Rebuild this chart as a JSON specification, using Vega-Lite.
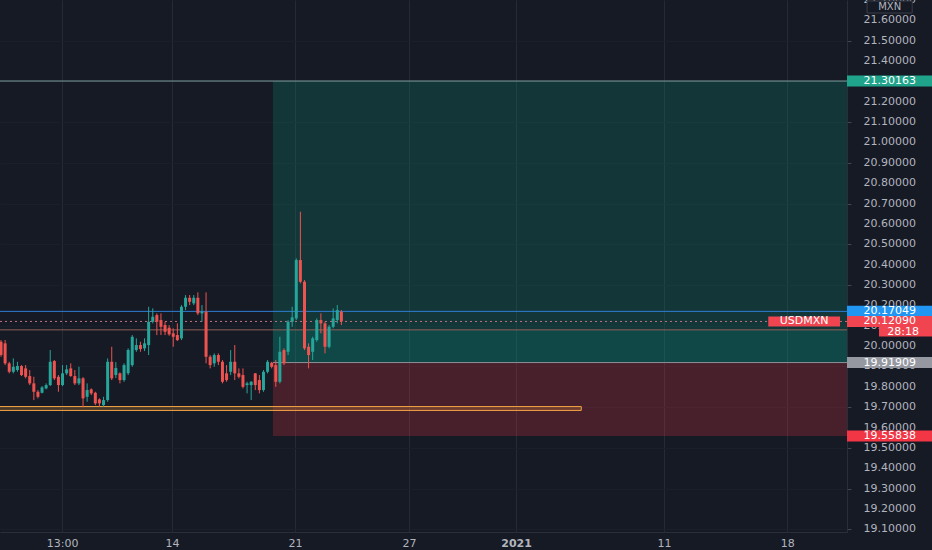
{
 "$schema": "https://vega.github.io/schema/vega-lite/v6.json",
 "width": 847,
 "height": 532,
 "autosize": {"type": "none"},
 "padding": {"left": 0, "top": 0, "right": 85, "bottom": 18},
 "background": "#161a25",
 "config": {"view": {"stroke": null}, "font": "DejaVu Sans"},
 "datasets": {
  "zones": [
   {"kind": "target", "start": 66.3, "end": 206.3, "low": 20.0797, "high": 21.30163},
   {"kind": "profit", "start": 66.3, "end": 206.3, "low": 19.91909, "high": 20.0797},
   {"kind": "stop", "start": 66.3, "end": 206.3, "low": 19.55838, "high": 19.91909}
  ],
  "drawings": [{"start": -3, "end": 141.5, "low": 19.684, "high": 19.703}],
  "levels": [
   {"kind": "tp", "price": 21.30163},
   {"kind": "blue", "price": 20.17049},
   {"kind": "hline", "price": 20.0797},
   {"kind": "last", "price": 20.1209}
  ],
  "entry": [{"start": 66.3, "end": 206.3, "price": 19.91909}],
  "pricescale": [
   {"v": 19.1}, {"v": 19.2}, {"v": 19.3}, {"v": 19.4}, {"v": 19.5}, {"v": 19.6}, {"v": 19.7}, {"v": 19.8}, {"v": 19.9},
   {"v": 20.0}, {"v": 20.1}, {"v": 20.2}, {"v": 20.3}, {"v": 20.4}, {"v": 20.5}, {"v": 20.6}, {"v": 20.7}, {"v": 20.8}, {"v": 20.9},
   {"v": 21.0}, {"v": 21.1}, {"v": 21.2}, {"v": 21.3}, {"v": 21.4}, {"v": 21.5}, {"v": 21.6}, {"v": 21.7}
  ],
  "candles": [
   {"i":0,"o":20.0212,"h":20.0295,"l":19.9475,"c":19.9559},
   {"i":1,"o":20.0133,"h":20.0295,"l":19.9067,"c":19.9151},
   {"i":2,"o":19.9151,"h":19.9229,"l":19.8660,"c":19.8738},
   {"i":3,"o":19.8738,"h":19.9396,"l":19.8660,"c":19.8984},
   {"i":4,"o":19.8822,"h":19.9229,"l":19.8738,"c":19.9018},
   {"i":5,"o":19.9018,"h":19.9067,"l":19.8527,"c":19.8576},
   {"i":6,"o":19.8905,"h":19.9067,"l":19.8414,"c":19.8492},
   {"i":7,"o":19.8527,"h":19.8822,"l":19.8085,"c":19.8168},
   {"i":8,"o":19.8168,"h":19.8492,"l":19.7348,"c":19.7756},
   {"i":9,"o":19.7756,"h":19.7839,"l":19.7432,"c":19.7510},
   {"i":10,"o":19.7707,"h":19.8036,"l":19.7677,"c":19.7972},
   {"i":11,"o":19.7923,"h":19.8168,"l":19.7874,"c":19.8085},
   {"i":12,"o":19.8085,"h":19.9804,"l":19.8036,"c":19.9229},
   {"i":13,"o":19.9264,"h":19.9313,"l":19.8330,"c":19.8414},
   {"i":14,"o":19.8492,"h":19.8576,"l":19.7756,"c":19.8085},
   {"i":15,"o":19.8085,"h":19.9067,"l":19.8036,"c":19.8660},
   {"i":16,"o":19.8660,"h":19.9067,"l":19.8576,"c":19.8856},
   {"i":17,"o":19.8905,"h":19.9151,"l":19.8492,"c":19.8527},
   {"i":18,"o":19.8527,"h":19.8822,"l":19.8085,"c":19.8168},
   {"i":19,"o":19.8168,"h":19.8984,"l":19.8085,"c":19.8414},
   {"i":20,"o":19.8414,"h":19.8478,"l":19.6989,"c":19.7432},
   {"i":21,"o":19.7510,"h":19.8168,"l":19.7265,"c":19.7839},
   {"i":22,"o":19.7874,"h":19.7923,"l":19.7594,"c":19.7677},
   {"i":23,"o":19.7707,"h":19.7756,"l":19.7102,"c":19.7186},
   {"i":24,"o":19.7382,"h":19.7432,"l":19.7019,"c":19.7186},
   {"i":25,"o":19.7102,"h":19.7510,"l":19.7019,"c":19.7348},
   {"i":26,"o":19.7348,"h":19.9396,"l":19.7265,"c":19.9229},
   {"i":27,"o":19.9229,"h":19.9966,"l":19.8330,"c":19.8414},
   {"i":28,"o":19.8576,"h":19.9215,"l":19.8429,"c":19.8920},
   {"i":29,"o":19.8660,"h":19.8709,"l":19.8168,"c":19.8330},
   {"i":30,"o":19.8330,"h":19.9151,"l":19.8247,"c":19.9067},
   {"i":31,"o":19.8660,"h":19.9888,"l":19.8576,"c":19.9804},
   {"i":32,"o":19.9067,"h":20.0541,"l":19.8984,"c":20.0457},
   {"i":33,"o":19.9804,"h":20.0379,"l":19.9720,"c":20.0050},
   {"i":34,"o":20.0050,"h":20.0212,"l":19.9720,"c":19.9853},
   {"i":35,"o":19.9888,"h":20.0379,"l":19.9755,"c":20.0133},
   {"i":36,"o":20.0050,"h":20.1931,"l":19.9559,"c":20.1194},
   {"i":37,"o":20.1194,"h":20.1852,"l":20.1116,"c":20.1440},
   {"i":38,"o":20.1523,"h":20.1607,"l":20.0541,"c":20.1194},
   {"i":39,"o":20.1278,"h":20.1607,"l":20.0541,"c":20.0948},
   {"i":40,"o":20.1032,"h":20.1194,"l":20.0541,"c":20.0703},
   {"i":41,"o":20.0899,"h":20.1032,"l":20.0506,"c":20.0575},
   {"i":42,"o":20.0624,"h":20.0870,"l":19.9966,"c":20.0457},
   {"i":43,"o":20.0541,"h":20.1116,"l":20.0246,"c":20.0295},
   {"i":44,"o":20.0379,"h":20.2014,"l":20.0295,"c":20.1931},
   {"i":45,"o":20.1931,"h":20.2506,"l":20.1769,"c":20.2373},
   {"i":46,"o":20.2373,"h":20.2506,"l":20.2014,"c":20.2176},
   {"i":47,"o":20.2098,"h":20.2506,"l":20.2014,"c":20.2373},
   {"i":48,"o":20.2373,"h":20.2638,"l":20.1523,"c":20.1607},
   {"i":49,"o":20.1607,"h":20.2014,"l":20.1194,"c":20.1685},
   {"i":50,"o":20.1685,"h":20.2638,"l":19.9151,"c":19.9475},
   {"i":51,"o":19.9475,"h":19.9559,"l":19.8905,"c":19.9067},
   {"i":52,"o":19.9151,"h":19.9642,"l":19.8984,"c":19.9559},
   {"i":53,"o":19.9559,"h":19.9642,"l":19.9067,"c":19.9229},
   {"i":54,"o":19.9229,"h":19.9313,"l":19.8168,"c":19.8247},
   {"i":55,"o":19.8660,"h":19.9067,"l":19.8247,"c":19.8330},
   {"i":56,"o":19.8738,"h":19.9804,"l":19.8576,"c":19.9229},
   {"i":57,"o":19.9229,"h":20.0050,"l":19.8330,"c":19.8660},
   {"i":58,"o":19.8660,"h":19.8905,"l":19.8414,"c":19.8492},
   {"i":59,"o":19.8576,"h":19.8905,"l":19.7923,"c":19.8001},
   {"i":60,"o":19.8085,"h":19.8247,"l":19.7677,"c":19.8168},
   {"i":61,"o":19.8085,"h":19.8281,"l":19.7348,"c":19.8247},
   {"i":62,"o":19.8660,"h":19.8675,"l":19.7839,"c":19.8085},
   {"i":63,"o":19.8330,"h":19.8576,"l":19.7677,"c":19.7839},
   {"i":64,"o":19.7839,"h":19.8822,"l":19.7756,"c":19.8738},
   {"i":65,"o":19.8738,"h":19.9313,"l":19.8660,"c":19.9229},
   {"i":66,"o":19.9180,"h":19.9229,"l":19.8905,"c":19.8984},
   {"i":67,"o":19.9067,"h":19.9313,"l":19.8001,"c":19.8247},
   {"i":68,"o":19.8247,"h":20.0457,"l":19.8168,"c":19.9720},
   {"i":69,"o":19.9804,"h":19.9888,"l":19.9067,"c":19.9151},
   {"i":70,"o":19.9720,"h":20.1278,"l":19.9559,"c":20.1194},
   {"i":71,"o":20.1194,"h":20.1931,"l":20.0948,"c":20.1410},
   {"i":72,"o":20.1361,"h":20.4308,"l":20.1278,"c":20.4225},
   {"i":73,"o":20.4225,"h":20.6597,"l":20.3080,"c":20.3159},
   {"i":74,"o":20.3159,"h":20.3242,"l":19.9804,"c":19.9888},
   {"i":75,"o":19.9966,"h":20.0133,"l":19.8905,"c":19.9559},
   {"i":76,"o":19.9720,"h":20.0457,"l":19.9313,"c":20.0379},
   {"i":77,"o":20.0295,"h":20.1361,"l":20.0212,"c":20.1278},
   {"i":78,"o":20.1278,"h":20.1607,"l":20.0624,"c":20.1116},
   {"i":79,"o":20.1116,"h":20.1194,"l":19.9642,"c":19.9966},
   {"i":80,"o":19.9966,"h":20.1032,"l":19.9888,"c":20.0948},
   {"i":81,"o":20.0948,"h":20.1852,"l":20.0870,"c":20.1361},
   {"i":82,"o":20.1278,"h":20.2014,"l":20.1116,"c":20.1769},
   {"i":83,"o":20.1685,"h":20.1769,"l":20.1032,"c":20.1209}
  ],
  "tags": [
   {"kind": "tp", "label": "21.30163", "price": 21.30163},
   {"kind": "blue", "label": "20.17049", "price": 20.17049},
   {"kind": "last", "label": "20.12090", "price": 20.1209},
   {"kind": "entry", "label": "19.91909", "price": 19.91909},
   {"kind": "sl", "label": "19.55838", "price": 19.55838}
  ],
  "countdown": [{"label": "28:18", "price": 20.0713}],
  "symbol": [{"label": "USDMXN", "price": 20.1209}],
  "currency": [{"label": "MXN", "price": 21.665}]
 },
 "layer": [
  {
   "data": {"name": "zones"},
   "transform": [{"filter": "datum.kind == 'target'"}],
   "mark": {"type": "rect", "color": "#089981", "opacity": 0.22},
   "encoding": {
    "x": {"field": "start", "type": "quantitative",
     "scale": {"domain": [-0.25, 206.3], "nice": false, "zero": false, "padding": 0},
     "axis": {"orient": "bottom", "title": null,
      "values": [14.9, 41.7, 71.7, 99.5, 125.6, 161.7, 191.7],
      "labelExpr": "datum.value < 20 ? '13:00' : datum.value < 50 ? '14' : datum.value < 80 ? '21' : datum.value < 110 ? '27' : datum.value < 140 ? '2021' : datum.value < 170 ? '11' : '18'",
      "grid": true, "gridColor": "#262a35", "domain": true, "domainColor": "#2a2e39",
      "ticks": false, "labelPadding": 5, "labelColor": "#b2b5be", "labelFontSize": 11,
      "labelFont": "DejaVu Sans", "labelFlush": false, "labelOverlap": false,
      "labelFontWeight": {"condition": {"test": "datum.value > 120 && datum.value < 130", "value": "bold"}, "value": "normal"}}},
    "x2": {"field": "end"},
    "y": {"field": "low", "type": "quantitative",
     "scale": {"domain": [19.087, 21.6995], "nice": false, "zero": false, "padding": 0},
     "axis": {"orient": "right", "title": null,
      "values": [19.1, 19.2, 19.3, 19.4, 19.5, 19.6, 19.7, 19.8, 19.9, 20.0, 20.1, 20.2, 20.3, 20.4, 20.5, 20.6, 20.7, 20.8, 20.9, 21.0, 21.1, 21.2, 21.3, 21.4, 21.5, 21.6],
      "labels": false, "grid": true, "gridColor": "#1b1f2a", "domain": true, "domainColor": "#2a2e39",
      "ticks": true, "tickSize": 4, "tickColor": "#434651"}},
    "y2": {"field": "high"}
   }
  },
  {
   "data": {"name": "zones"},
   "transform": [{"filter": "datum.kind == 'profit'"}],
   "mark": {"type": "rect", "color": "#089981", "opacity": 0.37},
   "encoding": {
    "x": {"field": "start", "type": "quantitative"},
    "x2": {"field": "end"},
    "y": {"field": "low", "type": "quantitative"},
    "y2": {"field": "high"}
   }
  },
  {
   "data": {"name": "zones"},
   "transform": [{"filter": "datum.kind == 'stop'"}],
   "mark": {"type": "rect", "color": "#f23645", "opacity": 0.23},
   "encoding": {
    "x": {"field": "start", "type": "quantitative"},
    "x2": {"field": "end"},
    "y": {"field": "low", "type": "quantitative"},
    "y2": {"field": "high"}
   }
  },
  {
   "data": {"name": "pricescale"},
   "mark": {"type": "text", "color": "#b2b5be", "fontSize": 11, "font": "DejaVu Sans", "align": "center", "baseline": "middle"},
   "encoding": {
    "x": {"datum": 216.7, "type": "quantitative"},
    "y": {"field": "v", "type": "quantitative"},
    "text": {"field": "v", "type": "quantitative", "format": ".5f"}
   }
  },
  {
   "data": {"name": "drawings"},
   "mark": {"type": "rect", "clip": true, "fill": "#f5a13a", "fillOpacity": 0.22, "stroke": "#f2a444", "strokeWidth": 1},
   "encoding": {
    "x": {"field": "start", "type": "quantitative"},
    "x2": {"field": "end"},
    "y": {"field": "low", "type": "quantitative"},
    "y2": {"field": "high"}
   }
  },
  {
   "data": {"name": "levels"},
   "transform": [{"filter": "datum.kind == 'tp'"}],
   "mark": {"type": "rule", "strokeWidth": 1, "color": "#7c9c9b"},
   "encoding": {"y": {"field": "price", "type": "quantitative"}}
  },
  {
   "data": {"name": "levels"},
   "transform": [{"filter": "datum.kind == 'blue'"}],
   "mark": {"type": "rule", "strokeWidth": 1, "color": "#2f7fd6"},
   "encoding": {"y": {"field": "price", "type": "quantitative"}}
  },
  {
   "data": {"name": "levels"},
   "transform": [{"filter": "datum.kind == 'hline'"}],
   "mark": {"type": "rule", "strokeWidth": 1, "color": "#8e5f58"},
   "encoding": {"y": {"field": "price", "type": "quantitative"}}
  },
  {
   "data": {"name": "levels"},
   "transform": [{"filter": "datum.kind == 'last'"}],
   "mark": {"type": "rule", "strokeWidth": 1, "color": "#c0707a", "strokeDash": [2, 3]},
   "encoding": {"y": {"field": "price", "type": "quantitative"}}
  },
  {
   "data": {"name": "entry"},
   "mark": {"type": "rule", "color": "#8c8f99", "strokeWidth": 1},
   "encoding": {
    "x": {"field": "start", "type": "quantitative"},
    "x2": {"field": "end"},
    "y": {"field": "price", "type": "quantitative"}
   }
  },
  {
   "data": {"name": "candles"},
   "mark": {"type": "rule", "strokeWidth": 1},
   "encoding": {
    "x": {"field": "i", "type": "quantitative"},
    "y": {"field": "l", "type": "quantitative"},
    "y2": {"field": "h"},
    "color": {"condition": {"test": "datum.c >= datum.o", "value": "#26a69a"}, "value": "#ef5350"}
   }
  },
  {
   "data": {"name": "candles"},
   "mark": {"type": "bar", "size": 3},
   "encoding": {
    "x": {"field": "i", "type": "quantitative"},
    "y": {"field": "o", "type": "quantitative"},
    "y2": {"field": "c"},
    "color": {"condition": {"test": "datum.c >= datum.o", "value": "#26a69a"}, "value": "#ef5350"}
   }
  },
  {
   "data": {"name": "tags"},
   "mark": {"type": "bar", "size": 11},
   "encoding": {
    "x": {"datum": 206.3, "type": "quantitative"},
    "x2": {"datum": 227.2},
    "y": {"field": "price", "type": "quantitative"},
    "color": {"field": "kind", "type": "nominal", "legend": null,
     "scale": {"domain": ["tp", "blue", "last", "entry", "sl"], "range": ["#1fa38b", "#2196f3", "#f04550", "#9598a1", "#f23645"]}}
   }
  },
  {
   "data": {"name": "tags"},
   "mark": {"type": "text", "color": "#ffffff", "fontSize": 11, "font": "DejaVu Sans", "align": "center", "baseline": "middle"},
   "encoding": {
    "x": {"datum": 216.7, "type": "quantitative"},
    "y": {"field": "price", "type": "quantitative"},
    "text": {"field": "label"}
   }
  },
  {
   "data": {"name": "countdown"},
   "mark": {"type": "bar", "size": 10, "color": "#f04550"},
   "encoding": {
    "x": {"datum": 214.1, "type": "quantitative"},
    "x2": {"datum": 227.2},
    "y": {"field": "price", "type": "quantitative"}
   }
  },
  {
   "data": {"name": "countdown"},
   "mark": {"type": "text", "color": "#ffffff", "fontSize": 11, "font": "DejaVu Sans", "align": "center", "baseline": "middle"},
   "encoding": {
    "x": {"datum": 220.0, "type": "quantitative"},
    "y": {"field": "price", "type": "quantitative"},
    "text": {"field": "label"}
   }
  },
  {
   "data": {"name": "symbol"},
   "mark": {"type": "bar", "size": 10, "color": "#f04550"},
   "encoding": {
    "x": {"datum": 187.1, "type": "quantitative"},
    "x2": {"datum": 204.6},
    "y": {"field": "price", "type": "quantitative"}
   }
  },
  {
   "data": {"name": "symbol"},
   "mark": {"type": "text", "color": "#ffffff", "fontSize": 11, "font": "DejaVu Sans", "align": "center", "baseline": "middle"},
   "encoding": {
    "x": {"datum": 195.85, "type": "quantitative"},
    "y": {"field": "price", "type": "quantitative"},
    "text": {"field": "label"}
   }
  },
  {
   "data": {"name": "currency"},
   "mark": {"type": "bar", "size": 12, "color": "#161a25", "stroke": "#3a3e49", "strokeWidth": 1},
   "encoding": {
    "x": {"datum": 211.2, "type": "quantitative"},
    "x2": {"datum": 222.2},
    "y": {"field": "price", "type": "quantitative"}
   }
  },
  {
   "data": {"name": "currency"},
   "mark": {"type": "text", "color": "#b2b5be", "fontSize": 10, "font": "DejaVu Sans", "align": "center", "baseline": "middle"},
   "encoding": {
    "x": {"datum": 216.7, "type": "quantitative"},
    "y": {"field": "price", "type": "quantitative"},
    "text": {"field": "label"}
   }
  }
 ],
 "resolve": {"scale": {"color": "independent"}}
}
